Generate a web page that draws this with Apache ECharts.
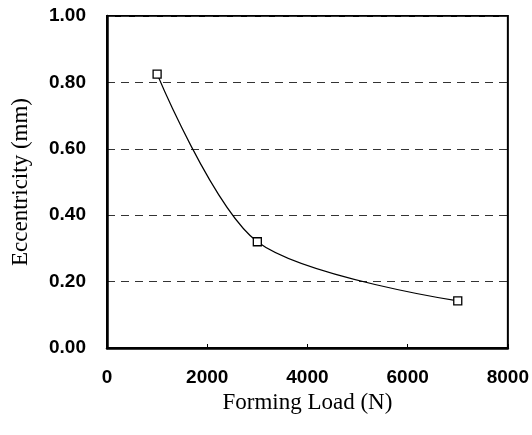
<!DOCTYPE html>
<html><head><meta charset="utf-8">
<script src="https://cdn.jsdelivr.net/npm/echarts@6/dist/echarts.min.js"></script>
<style>html,body{margin:0;padding:0;background:#fff}#c{width:532px;height:435px}</style>
</head><body><div id="c"></div>
<script>
const loads = [1000, 3000, 7000];
const eccentricity = [0.825, 0.32, 0.142];
const xTicks = [0, 2000, 4000, 6000, 8000];
const yTicks = [0, 0.2, 0.4, 0.6, 0.8, 1.0];

const chart = echarts.init(document.getElementById('c'), null, {renderer: 'canvas'});
chart.setOption({
  backgroundColor: '#fff',
  animation: false,
  grid: {left: 107, right: 22, top: 16, bottom: 87, show: true, borderColor: '#000', borderWidth: 2, backgroundColor: 'transparent'},
  xAxis: {
    type: 'value', min: xTicks[0], max: xTicks[xTicks.length-1], interval: 2000,
    name: 'Forming Load (N)', nameLocation: 'middle', nameGap: 43,
    nameTextStyle: {fontFamily: 'Liberation Serif', fontSize: 23, color: '#000'},
    axisLine: {show: true, lineStyle: {color: '#000', width: 2.5}},
    axisTick: {show: true, inside: true, length: 4, lineStyle: {color: '#000'}},
    axisLabel: {margin: 20, fontFamily: 'Liberation Sans', fontWeight: 'bold', fontSize: 19, color: '#000',
      formatter: v => String(v)},
    splitLine: {show: false}
  },
  yAxis: {
    type: 'value', min: yTicks[0], max: yTicks[yTicks.length-1], interval: 0.2,
    name: 'Eccentricity (mm)', nameLocation: 'middle', nameGap: 75,
    nameTextStyle: {fontFamily: 'Liberation Serif', fontSize: 23, color: '#000'},
    axisLine: {show: true, lineStyle: {color: '#000', width: 2.5}},
    axisTick: {show: false},
    axisLabel: {margin: 21, fontFamily: 'Liberation Sans', fontWeight: 'bold', fontSize: 19, color: '#000',
      formatter: v => v.toFixed(2)},
    splitLine: {show: true, lineStyle: {color: '#333', width: 1, type: [8, 6]}}
  },
  series: [{
    type: 'line',
    data: loads.map((x, i) => [x, eccentricity[i]]),
    smooth: 0.3,
    symbol: 'rect', symbolSize: 8,
    itemStyle: {color: '#fff', borderColor: '#000', borderWidth: 1.3},
    lineStyle: {color: '#000', width: 1.2}
  }]
});
</script></body></html>
